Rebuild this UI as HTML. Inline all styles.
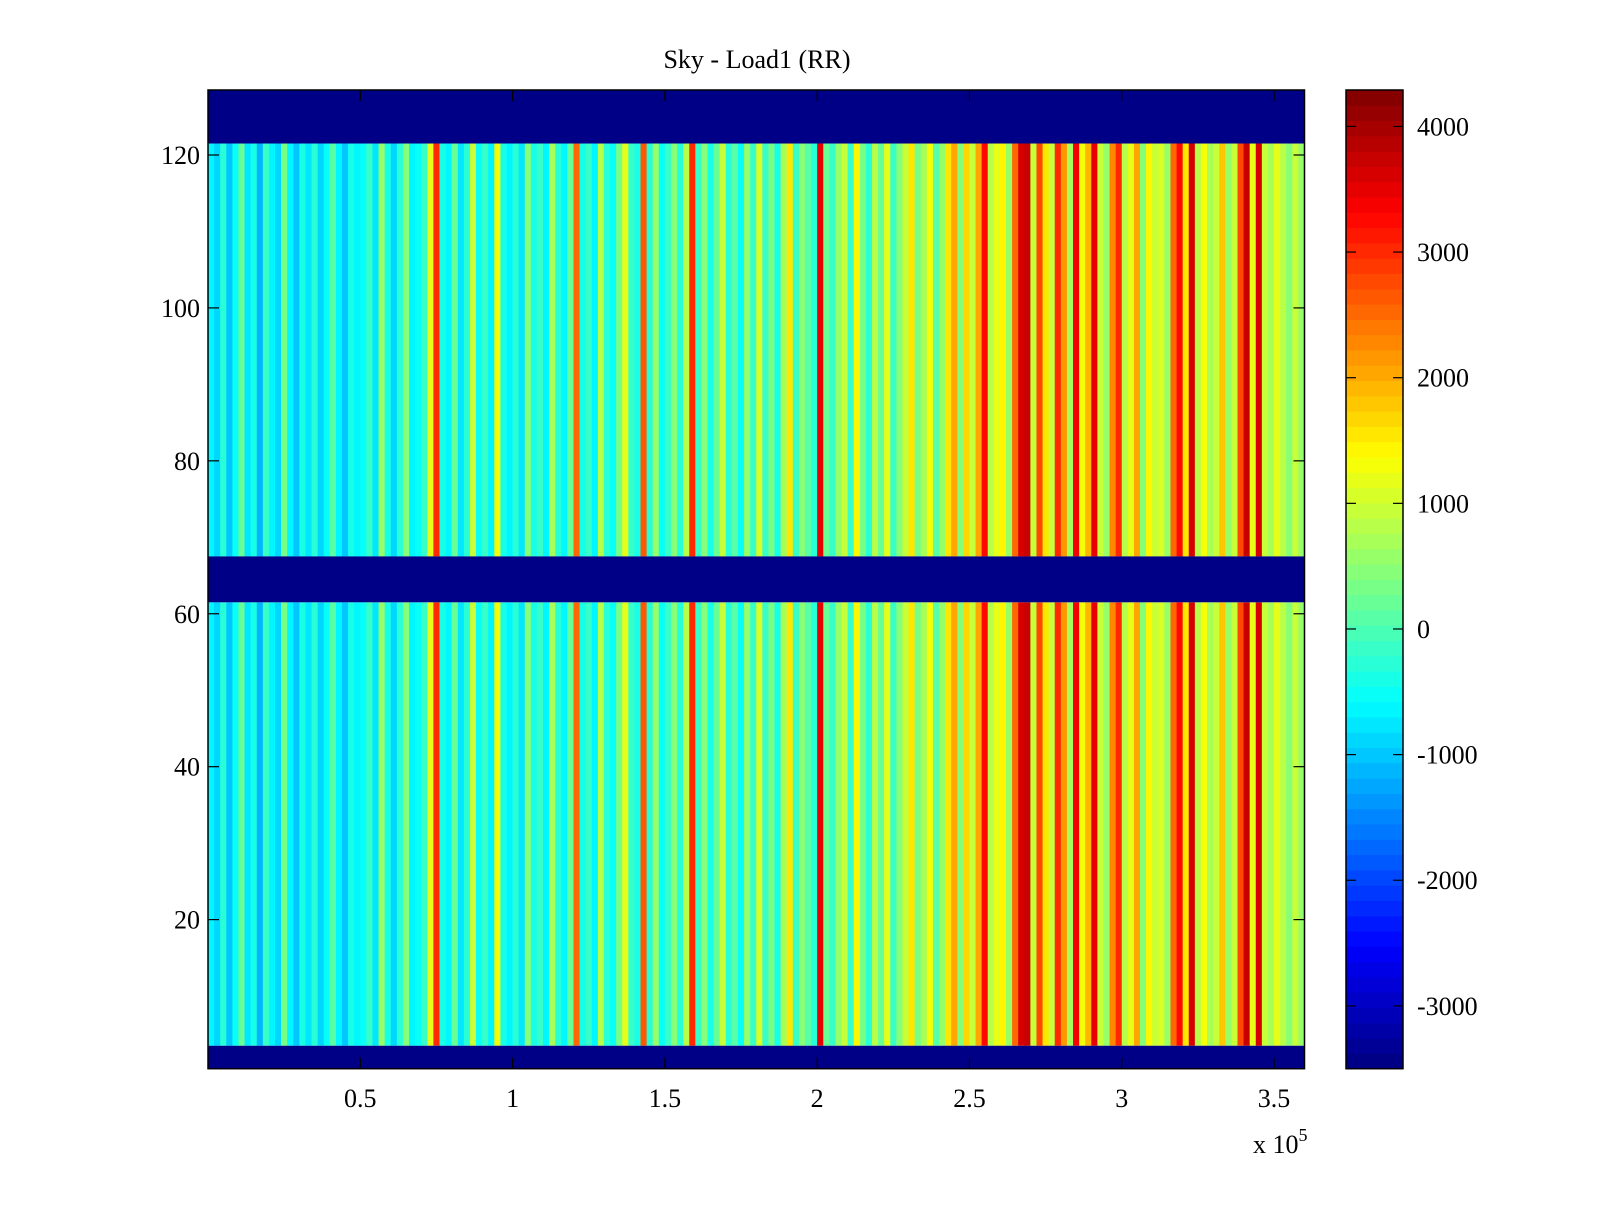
<!DOCTYPE html>
<html><head><meta charset="utf-8"><style>
html,body{margin:0;padding:0;background:#fff;}
svg text{font-family:"Liberation Serif",serif;fill:#000;}
</style></head><body>
<svg id="chart" width="1600" height="1200" xmlns="http://www.w3.org/2000/svg">
<text x="757" y="68" font-size="26" text-anchor="middle">Sky - Load1 (RR)</text>
<g id="cells"></g>
<g id="axes"></g>
<g id="cbar"></g>
</svg>
<script>
const colValues = [
-600,-900,-300,-1000,-500,200,-800,-400,-1100,-200,-700,-900,300,-600,-1000,-400,-800,-300,-900,-500,100,-700,-1000,-400,-600,
-500,-200,-800,600,-400,-900,-300,400,-700,-500,-100,1200,3000,-400,-600,200,-800,-300,900,-500,-200,-700,1300,-400,-600,
-300,-800,500,-400,-100,-600,700,-300,-700,200,2500,-400,-200,-600,800,-300,-500,300,1200,-200,-400,2600,-300,600,-500,
-100,400,-300,800,3000,-200,500,-400,200,900,-300,100,-500,600,-200,1100,-100,300,-400,700,1500,-200,400,100,-300,
3500,200,-200,600,1000,-100,1400,300,-300,800,200,1200,-100,500,900,1600,300,700,1300,100,600,1500,2000,400,1700,
900,2000,3200,800,1200,1400,600,2500,3600,3800,1000,2800,1500,900,3000,2200,700,3400,1300,1900,3500,1000,600,2300,3000,
800,1200,2000,400,1400,900,1100,600,2500,3200,1500,3600,800,1300,700,1000,1800,600,1000,2800,3700,1200,3600,900,700,
1200,800,500,900,600];
const colWidth = 2000;
const dataBlocks = [[4,61],[68,121]];
const blankBlocks = [[1,3],[62,67],[122,128]];
const xTicks = [0.5,1,1.5,2,2.5,3,3.5];
const xTickLabels = ["0.5","1","1.5","2","2.5","3","3.5"];
const yTicks = [20,40,60,80,100,120];
const cTicks = [-3000,-2000,-1000,0,1000,2000,3000,4000];
const vmin = -3500, vmax = 4290;

const NS="http://www.w3.org/2000/svg";
const L=208,T=90,W=1096.5,H=978.7;
const xMin=0,xMax=360000,yMin=0.5,yMax=128.5;
const xs=v=>L+(v-xMin)/(xMax-xMin)*W;
const ys=v=>T+(yMax-v)/(yMax-yMin)*H;
const CBL=1346,CBW=57;
const cs=v=>T+(vmax-v)/(vmax-vmin)*H;
function jet(t){t=Math.max(0,Math.min(1,t));
 const f=x=>Math.max(0,Math.min(1,1.5-Math.abs(4*t-x)));
 const r=f(3),g=f(2),b=f(1);
 return `rgb(${Math.round(r*255)},${Math.round(g*255)},${Math.round(b*255)})`;}
function q(v){const t=(v-vmin)/(vmax-vmin);return jet((Math.floor(t*63.999)+0.5)/64);}
function el(tag,attrs,parent){const e=document.createElementNS(NS,tag);for(const k in attrs)e.setAttribute(k,attrs[k]);parent.appendChild(e);return e;}
const cells=document.getElementById('cells');
colValues.forEach((v,i)=>{
 dataBlocks.forEach(b=>{
  const x0=xs(i*colWidth),x1=xs((i+1)*colWidth);
  const r=el('rect',{x:x0,y:ys(b[1]+0.5),width:x1-x0+0.6,height:ys(b[0]-0.5)-ys(b[1]+0.5),fill:q(v)},cells);
  
  
 });
});
blankBlocks.forEach(b=>{
 const r=el('rect',{x:L,y:ys(b[1]+0.5),width:W,height:ys(b[0]-0.5)-ys(b[1]+0.5),fill:q(vmin)},cells);
 
 
});
const ax=document.getElementById('axes');
el('rect',{x:L,y:T,width:W,height:H,fill:'none',stroke:'#000','stroke-width':1.5},ax);
xTicks.forEach((v,i)=>{const x=xs(v*1e5);
 el('line',{x1:x,y1:T+H,x2:x,y2:T+H-11,stroke:'#000','stroke-width':1.2},ax);
 el('line',{x1:x,y1:T,x2:x,y2:T+11,stroke:'#000','stroke-width':1.2},ax);
 const t=el('text',{x:x,y:1107,'font-size':26,'text-anchor':'middle'},ax);t.textContent=xTickLabels[i];
 
 
});
yTicks.forEach(v=>{const y=ys(v);
 el('line',{x1:L,y1:y,x2:L+11,y2:y,stroke:'#000','stroke-width':1.2},ax);
 el('line',{x1:L+W,y1:y,x2:L+W-11,y2:y,stroke:'#000','stroke-width':1.2},ax);
 const t=el('text',{x:L-8,y:y+9,'font-size':26,'text-anchor':'end'},ax);t.textContent=v;
 
 
});
const ex=el('text',{x:1253,y:1153,'font-size':26},ax);ex.innerHTML='x 10<tspan dy="-12" font-size="18">5</tspan>';


const cb=document.getElementById('cbar');
for(let k=0;k<64;k++){const v0=vmin+k*(vmax-vmin)/64,v1=vmin+(k+1)*(vmax-vmin)/64;
 const r=el('rect',{x:CBL,y:cs(v1),width:CBW,height:cs(v0)-cs(v1)+0.5,fill:jet((k+0.5)/64)},cb);
 
 
}
el('rect',{x:CBL,y:T,width:CBW,height:H,fill:'none',stroke:'#000','stroke-width':1.5},cb);
cTicks.forEach(v=>{const y=cs(v);
 el('line',{x1:CBL,y1:y,x2:CBL+10,y2:y,stroke:'#000','stroke-width':1.2},cb);
 el('line',{x1:CBL+CBW,y1:y,x2:CBL+CBW-10,y2:y,stroke:'#000','stroke-width':1.2},cb);
 const t=el('text',{x:CBL+CBW+14,y:y+9,'font-size':26},cb);t.textContent=v;
 
 
});
</script>
</body></html>
